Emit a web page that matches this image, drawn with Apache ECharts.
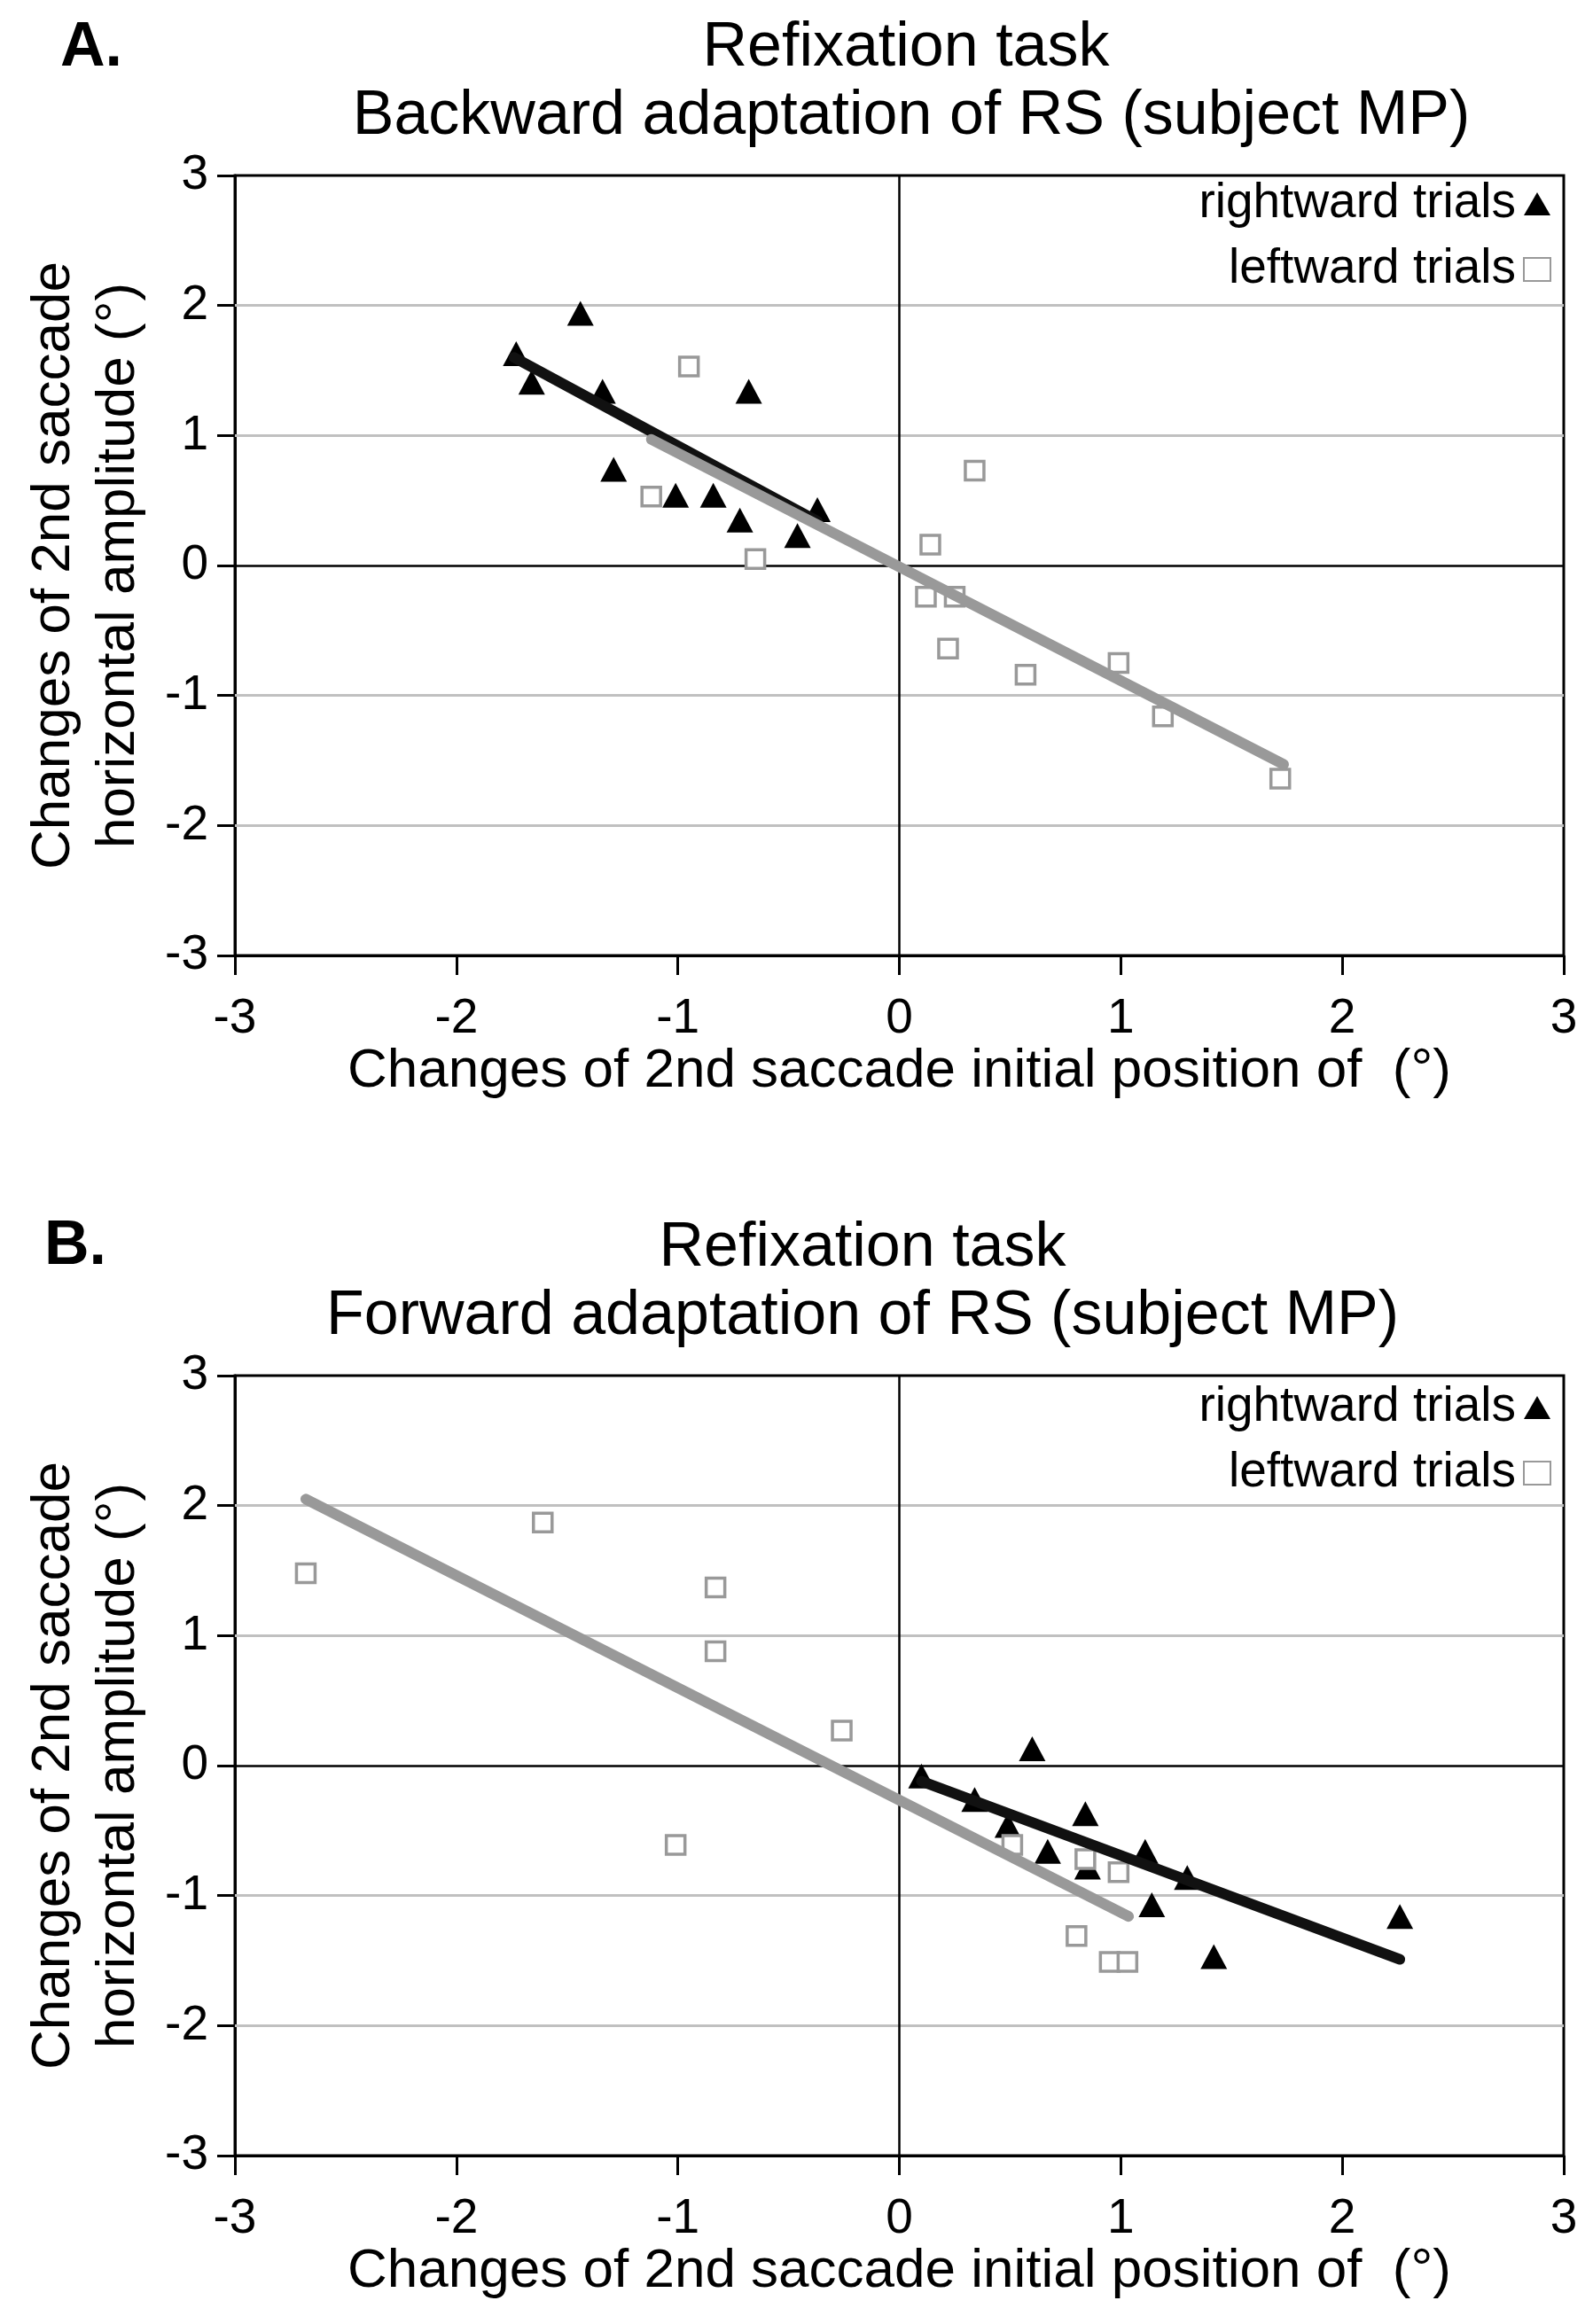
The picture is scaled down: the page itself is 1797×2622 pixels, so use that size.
<!DOCTYPE html>
<html>
<head>
<meta charset="utf-8">
<script src="https://cdn.jsdelivr.net/npm/echarts@6/dist/echarts.min.js"></script>
<style>
html,body{margin:0;padding:0;background:#fff;}
#chart{width:1797px;height:2622px;}
</style>
</head>
<body>
<div id="chart"></div>
<script>
const FONT = '"Liberation Sans", Arial, Helvetica, sans-serif';

// ---------- Panel A data (backward adaptation) ----------
const aRightX = [-1.73, -1.66, -1.44, -1.34, -1.29, -1.01, -0.84, -0.72, -0.68, -0.46, -0.37];
const aRightY = [ 1.63,  1.41,  1.94,  1.34,  0.74,  0.54,  0.54,  0.35,  1.34,  0.23,  0.43];
const aLeftX  = [-1.12, -0.95, -0.65, 0.14, 0.34, 0.12, 0.25, 0.22, 0.57, 0.99, 1.19, 1.72];
const aLeftY  = [ 0.53,  1.53,  0.05, 0.16, 0.73, -0.24, -0.24, -0.64, -0.84, -0.75, -1.16, -1.64];
const aRightFitX = [-1.74, -0.37];
const aRightFitY = [ 1.60,  0.34];
const aLeftFitX  = [-1.12, 1.735];
const aLeftFitY  = [ 0.97, -1.53];

// ---------- Panel B data (forward adaptation) ----------
const bRightX = [0.10, 0.60, 0.34, 0.49, 0.84, 0.67, 0.85, 1.11, 1.30, 1.14, 1.42, 2.26];
const bRightY = [-0.08, 0.13, -0.26, -0.46, -0.37, -0.66, -0.78, -0.66, -0.86, -1.07, -1.47, -1.16];
const bLeftX  = [-2.68, -1.61, -0.83, -0.83, -0.26, -1.01, 0.51, 0.84, 0.99, 0.80, 0.95, 1.03];
const bLeftY  = [ 1.48,  1.87,  1.37,  0.88,  0.27, -0.61, -0.61, -0.72, -0.82, -1.31, -1.51, -1.51];
const bRightFitX = [0.10, 2.26];
const bRightFitY = [-0.12, -1.49];
const bLeftFitX  = [-2.68, 1.035];
const bLeftFitY  = [ 2.05, -1.16];

// ---------- axes / text ----------
const axisMin = -3, axisMax = 3, axisStep = 1;
const gridLevels = [-2, -1, 1, 2];
const zeroLevel = 0;
const legendNames = ['rightward trials', 'leftward trials'];
const xTitle = 'Changes of 2nd saccade initial position of  (°)';
const yTitle = 'Changes of 2nd saccade\nhorizontal amplitude (°)';
const titleLine1 = 'Refixation task';
const titleA = 'Backward adaptation of RS (subject MP)';
const titleB = 'Forward adaptation of RS (subject MP)';
const panelLetters = ['A.', 'B.'];

const zip = (xs, ys) => xs.map((x, i) => [x, ys[i]]);

const grids = [
  {left: 265, top: 198, width: 1499, height: 880},
  {left: 265, top: 1552, width: 1499, height: 880}
];

function xAxisFor(gi) {
  return {
    type: 'value', gridIndex: gi, min: axisMin, max: axisMax, interval: axisStep,
    axisLine: {show: true, onZero: false, lineStyle: {color: '#000', width: 3}},
    axisTick: {show: true, inside: false, length: 22, lineStyle: {color: '#000', width: 3}},
    axisLabel: {show: true, margin: 44, color: '#000', fontSize: 55, fontFamily: FONT},
    splitLine: {show: false},
    name: xTitle, nameLocation: 'middle', nameGap: 96,
    nameTextStyle: {fontSize: 62, fontFamily: FONT, color: '#000', lineHeight: 62}
  };
}
function yAxisFor(gi) {
  return {
    type: 'value', gridIndex: gi, min: axisMin, max: axisMax, interval: axisStep,
    axisLine: {show: true, onZero: false, lineStyle: {color: '#000', width: 3}},
    axisTick: {show: true, inside: false, length: 20, lineStyle: {color: '#000', width: 3}},
    axisLabel: {show: true, margin: 30, color: '#000', fontSize: 55, fontFamily: FONT},
    splitLine: {show: false},
    name: yTitle, nameLocation: 'middle', nameGap: 95,
    nameTextStyle: {fontSize: 62, fontFamily: FONT, color: '#000', lineHeight: 73, align: 'center'}
  };
}

function panelSeries(gi, rx, ry, lx, ly, rfx, rfy, lfx, lfy) {
  const refLines = gridLevels.map(v => ({yAxis: v, lineStyle: {color: '#c0c0c0', width: 3, type: 'solid'}}))
    .concat([
      {yAxis: zeroLevel, lineStyle: {color: '#000', width: 2.5, type: 'solid'}},
      {xAxis: zeroLevel, lineStyle: {color: '#000', width: 2.5, type: 'solid'}}
    ]);
  return [
    {
      type: 'scatter', name: legendNames[0], xAxisIndex: gi, yAxisIndex: gi,
      symbol: 'triangle', symbolSize: [30, 28], z: 10, silent: true,
      itemStyle: {color: '#000', borderColor: '#000', borderWidth: 0, opacity: 1},
      data: zip(rx, ry),
      markLine: {
        silent: true, z: 1, symbol: ['none', 'none'], label: {show: false},
        emphasis: {disabled: true}, animation: false,
        data: refLines
      }
    },
    {
      type: 'scatter', name: legendNames[1], xAxisIndex: gi, yAxisIndex: gi,
      symbol: 'rect', symbolSize: 21, z: 11, silent: true,
      itemStyle: {color: '#fff', borderColor: '#999', borderWidth: 3.5, opacity: 1},
      data: zip(lx, ly)
    },
    {
      type: 'line', name: 'rightward fit', xAxisIndex: gi, yAxisIndex: gi,
      symbol: 'none', z: 12, silent: true,
      lineStyle: {color: '#111', width: 12, cap: 'round'},
      data: zip(rfx, rfy)
    },
    {
      type: 'line', name: 'leftward fit', xAxisIndex: gi, yAxisIndex: gi,
      symbol: 'none', z: 13, silent: true,
      lineStyle: {color: '#999', width: 12, cap: 'round'},
      data: zip(lfx, lfy)
    }
  ];
}

function legendFor(top) {
  return {
    orient: 'vertical', right: 47, top: top, padding: 0, itemGap: 18,
    itemWidth: 30, itemHeight: 26, align: 'right', selectedMode: false,
    data: legendNames,
    textStyle: {fontSize: 55, fontFamily: FONT, color: '#000', lineHeight: 56, padding: [0, 4, 0, 0]}
  };
}

function txt(text, x, y, size, weight, align) {
  return {
    type: 'text', x: x, y: y, silent: true,
    style: {
      text: text, fill: '#000',
      font: (weight || 'normal') + ' ' + size + 'px ' + FONT,
      align: align || 'center', verticalAlign: 'middle',
      textAlign: align || 'center', textVerticalAlign: 'middle'
    }
  };
}

const option = {
  animation: false,
  backgroundColor: '#fff',
  grid: grids.map(g => Object.assign({show: true, borderColor: '#000', borderWidth: 3, backgroundColor: 'transparent', containLabel: false}, g)),
  xAxis: [xAxisFor(0), xAxisFor(1)],
  yAxis: [yAxisFor(0), yAxisFor(1)],
  legend: [legendFor(202), legendFor(1560)],
  series: [].concat(
    panelSeries(0, aRightX, aRightY, aLeftX, aLeftY, aRightFitX, aRightFitY, aLeftFitX, aLeftFitY),
    panelSeries(1, bRightX, bRightY, bLeftX, bLeftY, bRightFitX, bRightFitY, bLeftFitX, bLeftFitY)
  ),
  graphic: [
    txt(panelLetters[0], 68, 55, 70, 'bold', 'left'),
    txt(titleLine1, 1022, 55, 70),
    txt(titleA, 1028, 132, 70),
    txt(panelLetters[1], 50, 1407, 70, 'bold', 'left'),
    txt(titleLine1, 973, 1409, 70),
    txt(titleB, 973, 1486, 70)
  ]
};

const chart = echarts.init(document.getElementById('chart'), null, {renderer: 'canvas'});
chart.setOption(option);
</script>
</body>
</html>
